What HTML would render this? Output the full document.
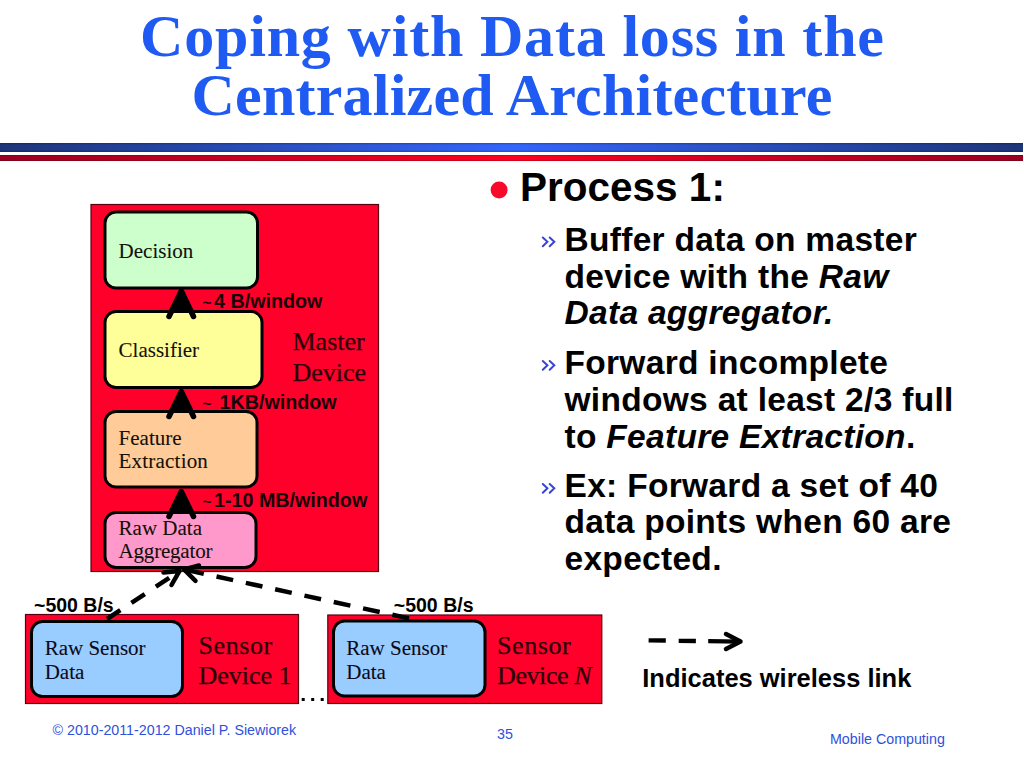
<!DOCTYPE html>
<html>
<head>
<meta charset="utf-8">
<style>
html,body{margin:0;padding:0;background:#fff;width:1024px;height:768px;overflow:hidden;}
svg{display:block;}
.ser{font-family:"Liberation Serif",serif;}
.san{font-family:"Liberation Sans",sans-serif;}
</style>
</head>
<body>
<svg width="1024" height="768" viewBox="0 0 1024 768">
<defs>
<linearGradient id="gb" x1="0" y1="0" x2="1" y2="0">
<stop offset="0" stop-color="#1d357a"/>
<stop offset="0.5" stop-color="#3366ff"/>
<stop offset="1" stop-color="#1d357a"/>
</linearGradient>
<linearGradient id="gr" x1="0" y1="0" x2="1" y2="0">
<stop offset="0" stop-color="#9a0020"/>
<stop offset="0.5" stop-color="#ff0022"/>
<stop offset="1" stop-color="#9a0020"/>
</linearGradient>
<linearGradient id="gv" x1="0" y1="0" x2="0" y2="1">
<stop offset="0" stop-color="#000" stop-opacity="0.25"/>
<stop offset="0.25" stop-color="#000" stop-opacity="0"/>
<stop offset="0.75" stop-color="#000" stop-opacity="0"/>
<stop offset="1" stop-color="#000" stop-opacity="0.25"/>
</linearGradient>
</defs>

<!-- Title -->
<text class="ser" x="512" y="55.7" text-anchor="middle" font-size="60" font-weight="700" fill="#1f5af2" textLength="744" lengthAdjust="spacing">Coping with Data loss in the</text>
<text class="ser" x="512" y="115.2" text-anchor="middle" font-size="60" font-weight="700" fill="#1f5af2" textLength="641" lengthAdjust="spacing">Centralized Architecture</text>

<!-- rule lines -->
<rect x="0" y="143" width="1023" height="9" fill="url(#gb)"/>
<rect x="0" y="143" width="1023" height="9" fill="url(#gv)"/>
<rect x="0" y="155" width="1023" height="6" fill="url(#gr)"/>
<rect x="0" y="155" width="1023" height="6" fill="url(#gv)"/>

<!-- Master device -->
<rect x="91" y="204.5" width="287.5" height="367" fill="#ff002b" stroke="#5a0010" stroke-width="1.2"/>
<rect x="105" y="212" width="152.5" height="76" rx="11" fill="#ccffcc" stroke="#000" stroke-width="3"/>
<rect x="105" y="311.5" width="157" height="76" rx="11" fill="#ffff99" stroke="#000" stroke-width="3"/>
<rect x="105" y="411.5" width="152" height="75.5" rx="11" fill="#ffcc99" stroke="#000" stroke-width="3"/>
<rect x="105" y="512.5" width="151" height="55" rx="11" fill="#ff99cc" stroke="#000" stroke-width="3"/>

<g fill="#141008" stroke="#141008" stroke-width="0.1" class="ser" font-size="21">
<text x="118.6" y="257.8">Decision</text>
<text x="118.6" y="357.1">Classifier</text>
<text x="118.6" y="444.5">Feature</text>
<text x="118.6" y="468.4" letter-spacing="0.2">Extraction</text>
<text x="118.6" y="534.8">Raw Data</text>
<text x="118.6" y="558.2" letter-spacing="-0.2">Aggregator</text>
</g>
<g fill="#2a0008" stroke="#2a0008" stroke-width="0.25" class="ser" font-size="26">
<text x="292.5" y="349.7">Master</text>
<text x="292.5" y="380.5">Device</text>
</g>

<!-- solid arrows -->
<g fill="#000">
<path d="M181.3 289 L171 311 L191.6 311 Z"/>
<path d="M181.3 389.5 L171 411 L191.6 411 Z"/>
<path d="M181.3 489.5 L171 511.5 L191.6 511.5 Z"/>
</g>
<g stroke="#000" stroke-width="5.5" stroke-linecap="round" stroke-linejoin="round" fill="none">
<path d="M169 316.5 L181.3 291 L193.5 316.5"/>
<path d="M169 416.5 L181.3 391.5 L193.5 416.5"/>
<path d="M169 516.5 L181.3 491.5 L193.5 516.5"/>
</g>
<g class="san" font-weight="700" font-size="19.7" fill="#1a0006">
<text x="202.5" y="307.6"><tspan font-size="15.5">~</tspan><tspan dx="2.5">4 B/window</tspan></text>
<text x="202.5" y="408.7"><tspan font-size="15.5">~</tspan><tspan dx="2.5"> 1KB/window</tspan></text>
<text x="202.5" y="506.6"><tspan font-size="15.5">~</tspan><tspan dx="2.5">1-10 MB/window</tspan></text>
</g>

<!-- sensor devices -->
<rect x="25.5" y="614.5" width="273" height="89" fill="#ff002b" stroke="#5a0010" stroke-width="1.2"/>
<rect x="31.5" y="621.5" width="151" height="75" rx="11" fill="#99ccff" stroke="#000" stroke-width="3"/>
<rect x="327.8" y="615" width="274" height="88.5" fill="#ff002b" stroke="#5a0010" stroke-width="1.2"/>
<rect x="333.5" y="621" width="151.5" height="75" rx="11" fill="#99ccff" stroke="#000" stroke-width="3"/>

<g fill="#0a0a1a" stroke="#0a0a1a" stroke-width="0.1" class="ser" font-size="21">
<text x="44.7" y="654.7" >Raw Sensor</text>
<text x="44.7" y="678.9">Data</text>
<text x="346.3" y="654.7" >Raw Sensor</text>
<text x="346.3" y="678.9">Data</text>
</g>
<g fill="#2a0008" stroke="#2a0008" stroke-width="0.25" class="ser" font-size="26">
<text x="198.5" y="653.8" letter-spacing="0.6">Sensor</text>
<text x="198.5" y="684.4">Device 1</text>
<text x="497" y="653.8" letter-spacing="0.6">Sensor</text>
<text x="497" y="684.4" letter-spacing="-0.4">Device <tspan font-style="italic">N</tspan></text>
</g>
<g fill="#000">
<rect x="301.7" y="698" width="3" height="3"/>
<rect x="311.2" y="698" width="3" height="3"/>
<rect x="320.7" y="698" width="3" height="3"/>
</g>

<!-- dashed wireless arrows -->
<g stroke="#000" stroke-width="4.5" fill="none">
<path d="M107 619 L179.4 571.1" stroke-dasharray="16 13.3"/>
<path d="M409 618.4 L184 569.4" stroke-dasharray="17 13"/>
</g>
<g stroke="#000" stroke-width="4.5" fill="none" stroke-linecap="round" stroke-linejoin="round">
<path d="M163.5 572.5 L179.4 571.1 L171.5 585"/>
<path d="M199 565.5 L184 569.4 L195.5 580.8"/>
</g>
<g class="san" font-weight="700" font-size="19.5" fill="#000">
<text x="34" y="612.2">~500 B/s</text>
<text x="393.8" y="612.2">~500 B/s</text>
</g>

<!-- legend -->
<g stroke="#000" stroke-width="4.3" fill="none">
<path d="M648.6 640.3 L665.8 640.5"/>
<path d="M678.7 640.9 L695.9 641"/>
<path d="M708.2 641.2 L740 641.6"/>
</g>
<path d="M726 634 L740.5 641.6 L726 649" stroke="#000" stroke-width="4.5" fill="none" stroke-linecap="round" stroke-linejoin="round"/>
<text class="san" x="642.3" y="687.2" font-size="25" font-weight="700" fill="#000" textLength="269" lengthAdjust="spacingAndGlyphs">Indicates wireless link</text>

<!-- right bullets -->
<circle cx="499.1" cy="190" r="8.5" fill="#f80a2a"/>
<text class="san" x="520" y="201" font-size="40.5" font-weight="700" fill="#000">Process 1:</text>

<g class="san" font-size="33.5" font-weight="700" fill="#000" letter-spacing="0.3">
<text x="564.5" y="250.5">Buffer data on master</text>
<text x="564.5" y="288">device with the <tspan font-style="italic">Raw</tspan></text>
<text x="564.5" y="324.4" font-style="italic">Data aggregator.</text>
<text x="564.5" y="373.6">Forward incomplete</text>
<text x="564.5" y="410.6">windows at least 2/3 full</text>
<text x="564.5" y="447.8">to <tspan font-style="italic">Feature Extraction</tspan>.</text>
<text x="564.5" y="496.7">Ex: Forward a set of 40</text>
<text x="564.5" y="533.4">data points when 60 are</text>
<text x="564.5" y="570.2">expected.</text>
</g>
<g stroke="#3844d4" stroke-width="2" fill="none" stroke-linecap="round" stroke-linejoin="miter">
<path d="M542.8 237.5 L547.4 241.8 L542.8 246.2 M549.7 237.5 L554.3 241.8 L549.7 246.2"/>
<path d="M542.8 361 L547.4 365.3 L542.8 369.7 M549.7 361 L554.3 365.3 L549.7 369.7"/>
<path d="M542.8 484 L547.4 488.3 L542.8 492.7 M549.7 484 L554.3 488.3 L549.7 492.7"/>
</g>

<!-- footer -->
<g class="san" font-size="14.25" fill="#3050dc">
<text x="52.5" y="734.8">© 2010-2011-2012 Daniel P. Siewiorek</text>
<text x="497" y="738.6">35</text>
<text x="830" y="744.3">Mobile Computing</text>
</g>
</svg>
</body>
</html>
